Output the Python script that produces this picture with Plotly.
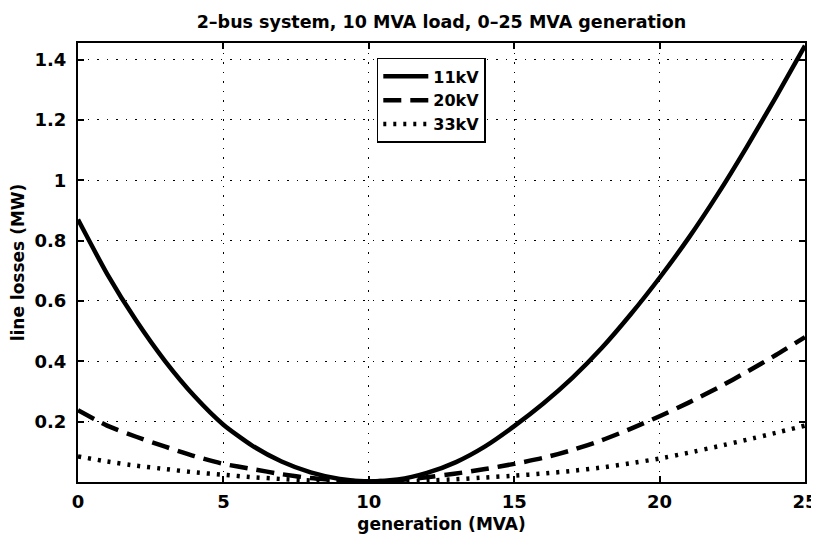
"""
Perdas na linha de um sistema de 2 barras (carga 10 MVA, geração 0-25 MVA).
Recriação em Plotly de um gráfico no estilo MATLAB.
"""
import plotly.graph_objects as go

# Geração (MVA)
geracao = list(range(0, 26))

# Perdas na linha (MW)
perdas_11kv = [0.870, 0.690, 0.535, 0.400, 0.285, 0.190, 0.120, 0.068, 0.032, 0.010,
               0.002, 0.008, 0.030, 0.066, 0.118, 0.185, 0.260, 0.345, 0.443, 0.555,
               0.677, 0.809, 0.954, 1.111, 1.276, 1.446]
perdas_20kv = [0.238, 0.187, 0.150, 0.117, 0.086, 0.060, 0.043, 0.026, 0.013, 0.005,
               0.002, 0.006, 0.016, 0.028, 0.043, 0.060, 0.080, 0.106, 0.138, 0.176,
               0.218, 0.263, 0.312, 0.365, 0.421, 0.480]
perdas_33kv = [0.085, 0.068, 0.054, 0.043, 0.032, 0.024, 0.016, 0.010, 0.005, 0.002,
               0.001, 0.002, 0.005, 0.009, 0.015, 0.021, 0.028, 0.037, 0.048, 0.062,
               0.078, 0.097, 0.118, 0.140, 0.163, 0.187]

nomes = ["11kV", "20kV", "33kV"]
x_ticks = [0, 5, 10, 15, 20, 25]
y_ticks = [0.2, 0.4, 0.6, 0.8, 1.0, 1.2, 1.4]
y_tick_labels = ["0.2", "0.4", "0.6", "0.8", "1", "1.2", "1.4"]

FONTE = "DejaVu Sans, Arial, sans-serif"
TEXTO = dict(family=FONTE, size=17, color="black", weight="bold")
TEXTO_TICKS = dict(family=FONTE, size=18, color="black", weight="bold")

fig = go.Figure()

# Curvas de perdas
estilos = ["solid", "18px,9px", "3px,7px"]
for nome, y, dash in zip(nomes, [perdas_11kv, perdas_20kv, perdas_33kv], estilos):
    fig.add_trace(go.Scatter(
        x=geracao,
        y=y,
        name=nome,
        mode="lines",
        line=dict(color="black", width=4.5, dash=dash, shape="spline", smoothing=0.6),
    ))

eixo_comum = dict(
    showline=True,
    linecolor="black",
    linewidth=2,
    mirror="ticks",
    ticks="inside",
    ticklen=6,
    tickwidth=1.5,
    tickcolor="black",
    showgrid=True,
    gridcolor="black",
    gridwidth=1.3,
    griddash="1.5px,8px",
    zeroline=False,
    automargin=False,
    tickfont=TEXTO_TICKS,
)

fig.update_xaxes(
    range=[0, 25],
    tickvals=x_ticks,
    ticklabelstandoff=2,
    title=dict(text="generation (MVA)", font=TEXTO, standoff=8),
    **eixo_comum,
)
fig.update_yaxes(
    range=[0, 1.455],
    tickvals=y_ticks,
    ticktext=y_tick_labels,
    ticklabelstandoff=6,
    title=dict(text="line losses (MW)", font=TEXTO, standoff=10),
    **eixo_comum,
)

# Atualizar layout (a página tem 8px de margem no body)
fig.update_layout(
    width=819,
    height=541,
    title=dict(
        text="2–bus system, 10 MVA load, 0–25 MVA generation",
        xref="paper",
        x=0.5,
        xanchor="center",
        y=0.975,
        yanchor="middle",
        font=dict(family=FONTE, size=17.5, color="black", weight="bold"),
    ),
    margin=dict(l=70, r=22, t=35, b=67),
    plot_bgcolor="white",
    paper_bgcolor="white",
    legend=dict(
        x=0.411,
        y=0.966,
        xanchor="left",
        yanchor="top",
        bgcolor="white",
        bordercolor="black",
        borderwidth=1.5,
        itemwidth=45,
        font=dict(family=FONTE, size=16, color="black", weight="bold"),
    ),
)

fig.write_html("out.html")
